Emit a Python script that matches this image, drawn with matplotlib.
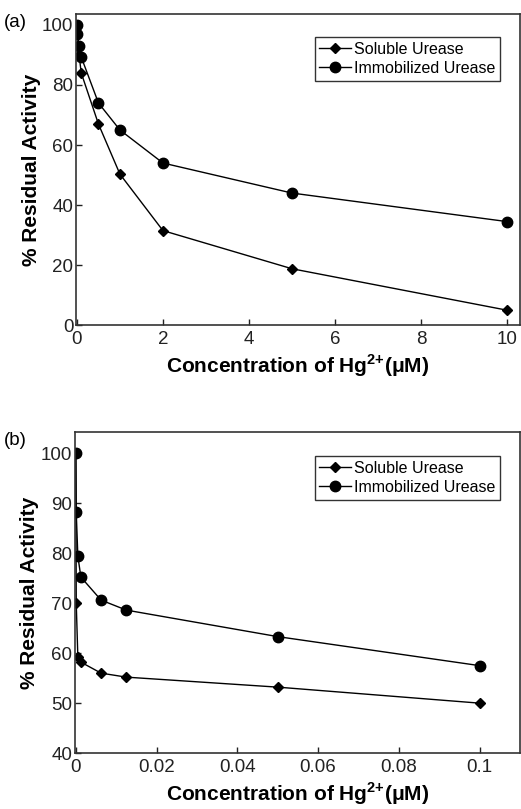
import matplotlib
matplotlib.use("Agg")
import matplotlib.pyplot as plt

plt.rcParams["font.family"] = ["Liberation Sans", "DejaVu Sans"]
plt.rcParams["mathtext.fontset"] = "custom"
plt.rcParams["mathtext.rm"] = "Liberation Sans"
plt.rcParams["mathtext.bf"] = "Liberation Sans:bold"

# panel (a): 0 - 10 uM
sol_a_x = [0, 0.05, 0.1, 0.5, 1, 2, 5, 10]
sol_a_y = [100, 90, 84, 67, 50.3, 31.5, 18.8, 5]
imm_a_x = [0, 0.01, 0.05, 0.1, 0.5, 1, 2, 5, 10]
imm_a_y = [100, 97, 93, 89.3, 74, 65, 54, 44, 34.5]

# panel (b): 0 - 0.1 uM
sol_b_x = [0, 0.0001, 0.0005, 0.00125, 0.00625, 0.0125, 0.05, 0.1]
sol_b_y = [100, 70, 59.2, 58.2, 56, 55.2, 53.2, 50]
imm_b_x = [0, 0.0001, 0.0005, 0.00125, 0.00625, 0.0125, 0.05, 0.1]
imm_b_y = [100, 88.2, 79.4, 75.2, 70.6, 68.6, 63.3, 57.5]

xticks_a = [0, 2, 4, 6, 8, 10]
yticks_a = [0, 20, 40, 60, 80, 100]
xticks_b = [0, 0.02, 0.04, 0.06, 0.08, 0.1]
xlabels_b = ["0", "0.02", "0.04", "0.06", "0.08", "0.1"]
yticks_b = [40, 50, 60, 70, 80, 90, 100]

xlabel = r"Concentration of Hg$^{\mathbf{2{+}}}$(μM)"
ylabel = "% Residual Activity"

fig = plt.figure(figsize=(5.21, 8.09), dpi=100)
ax_a = fig.add_axes([0.146, 0.598, 0.852, 0.385])
ax_b = fig.add_axes([0.144, 0.069, 0.854, 0.397])


def style(ax):
    for side in ["top", "right", "bottom", "left"]:
        ax.spines[side].set_linewidth(1.2)
        ax.spines[side].set_color("#333333")
    ax.tick_params(direction="in", length=4, width=1, labelsize=13.5,
                   top=False, right=False, colors="#222222")
    ax.tick_params(axis="x", pad=4)
    ax.tick_params(axis="y", pad=2)
    ax.set_xlabel(xlabel, fontsize=15, fontweight="bold", labelpad=3)
    ax.set_ylabel(ylabel, fontsize=15, fontweight="bold", labelpad=1)
    leg = ax.legend(loc="upper right", frameon=True, fancybox=False, edgecolor="black",
                    fontsize=11.5, handlelength=2.0, handletextpad=0.15, borderpad=0.3,
                    labelspacing=0.25, borderaxespad=0, bbox_to_anchor=(0.955, 0.925))
    leg.get_frame().set_linewidth(1)


ax_a.plot(sol_a_x, sol_a_y, color="black", lw=1, marker="D", ms=5, label="Soluble Urease")
ax_a.plot(imm_a_x, imm_a_y, color="black", lw=1, marker="o", ms=7.5, label="Immobilized Urease")
ax_a.set_xlim(-0.02, 10.3)
ax_a.set_ylim(0, 103.7)
ax_a.set_xticks(xticks_a)
ax_a.set_yticks(yticks_a)
style(ax_a)
fig.text(0.008, 0.972, "(a)", fontsize=13.5, va="center")

ax_b.plot(sol_b_x, sol_b_y, color="black", lw=1, marker="D", ms=5, label="Soluble Urease")
ax_b.plot(imm_b_x, imm_b_y, color="black", lw=1, marker="o", ms=7.5, label="Immobilized Urease")
ax_b.set_xlim(-0.0002, 0.11)
ax_b.set_ylim(40, 104.2)
ax_b.set_xticks(xticks_b)
ax_b.set_xticklabels(xlabels_b)
ax_b.set_yticks(yticks_b)
style(ax_b)
fig.text(0.008, 0.455, "(b)", fontsize=13.5, va="center")

fig.savefig("out.png", dpi=100)
